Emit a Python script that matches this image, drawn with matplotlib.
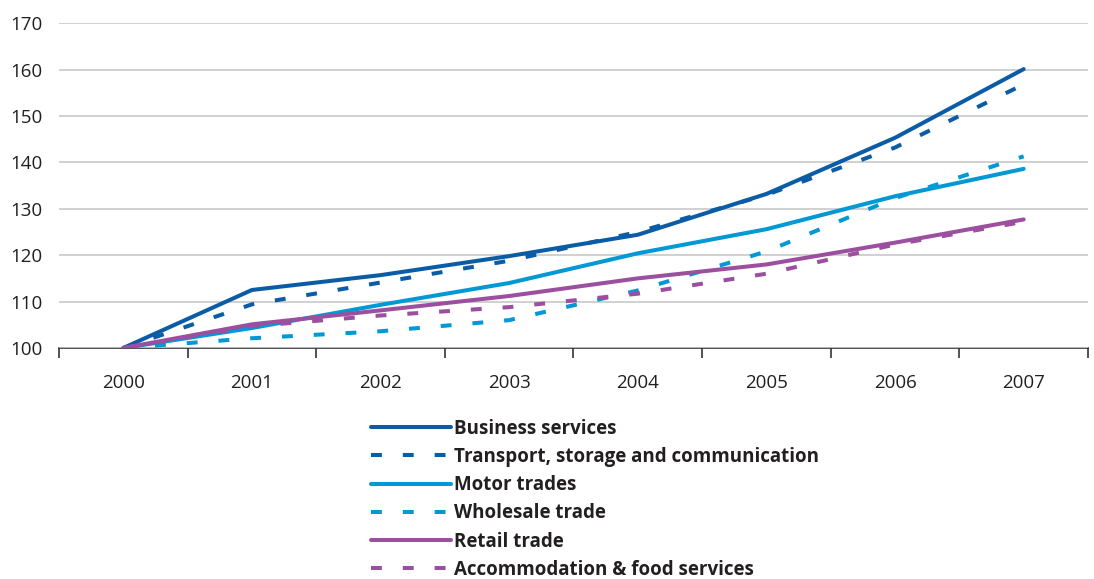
import matplotlib
matplotlib.use("Agg")
import matplotlib.pyplot as plt

years = ["2000", "2001", "2002", "2003", "2004", "2005", "2006", "2007"]

business = [100, 112.5, 115.7, 119.8, 124.4, 133.2, 145.3, 160.1]
transport = [100, 109.4, 114.1, 118.8, 125.0, 133.0, 143.2, 156.8]
motor = [100, 104.3, 109.3, 114.0, 120.4, 125.6, 132.7, 138.6]
wholesale = [100, 102.1, 103.6, 106.0, 112.4, 120.8, 132.3, 141.3]
retail = [100, 105.1, 108.1, 111.2, 115.0, 118.0, 122.7, 127.7]
accommodation = [100, 104.7, 107.0, 108.8, 111.7, 116.0, 122.3, 127.2]

series = [
    ("Business services", business, "#0b5ca6", "solid"),
    ("Transport, storage and communication", transport, "#0b5ca6", "dashed"),
    ("Motor trades", motor, "#0099d5", "solid"),
    ("Wholesale trade", wholesale, "#0099d5", "dashed"),
    ("Retail trade", retail, "#9b4f9e", "solid"),
    ("Accommodation & food services", accommodation, "#9b4f9e", "dashed"),
]

plt.rcParams["font.family"] = ["Open Sans", "DejaVu Sans"]

fig = plt.figure(figsize=(10.94, 5.79), dpi=100)
ax = fig.add_axes([0.0539, 0.399, 0.9406, 0.561])

x = list(range(len(years)))
for label, vals, color, style in series:
    if style == "solid":
        ax.plot(x, vals, color=color, lw=2.9, solid_capstyle="round",
                solid_joinstyle="round", label=label)
    else:
        ax.plot(x, vals, color=color, lw=2.9, linestyle=(0, (2.7, 5.2)),
                dash_capstyle="butt", label=label)

ax.set_xlim(-0.5, len(years) - 0.5)
ax.set_ylim(100, 170)
ax.set_yticks(range(100, 171, 10))
ax.set_xticks(x)
ax.set_xticklabels(years)
ax.set_xticks([i - 0.5 for i in range(len(years) + 1)], minor=True)
ax.tick_params(axis="x", which="major", length=0, pad=19, labelsize=13.5, colors="#231f20")
ax.tick_params(axis="x", which="minor", length=7, width=1.2, color="#333333", direction="out")
ax.tick_params(axis="y", length=0, pad=12, labelsize=13.5, colors="#231f20")

ax.grid(axis="y", color="#c8c8c8", lw=1.2)
ax.set_axisbelow(True)
for side in ("left", "right", "top"):
    ax.spines[side].set_visible(False)
ax.spines["bottom"].set_color("#333333")
ax.spines["bottom"].set_linewidth(1.2)
ax.spines["bottom"].set_zorder(0.5)

handles, labels = ax.get_legend_handles_labels()
leg = fig.legend(handles, labels, loc="upper left", bbox_to_anchor=(0.339, 0.277),
                 frameon=False, handlelength=4.3, handletextpad=0.12,
                 labelspacing=0.44, borderpad=0, borderaxespad=0,
                 prop={"weight": "bold", "size": 13.5})
for t in leg.get_texts():
    t.set_color("#231f20")

fig.savefig("out.png", dpi=100)
